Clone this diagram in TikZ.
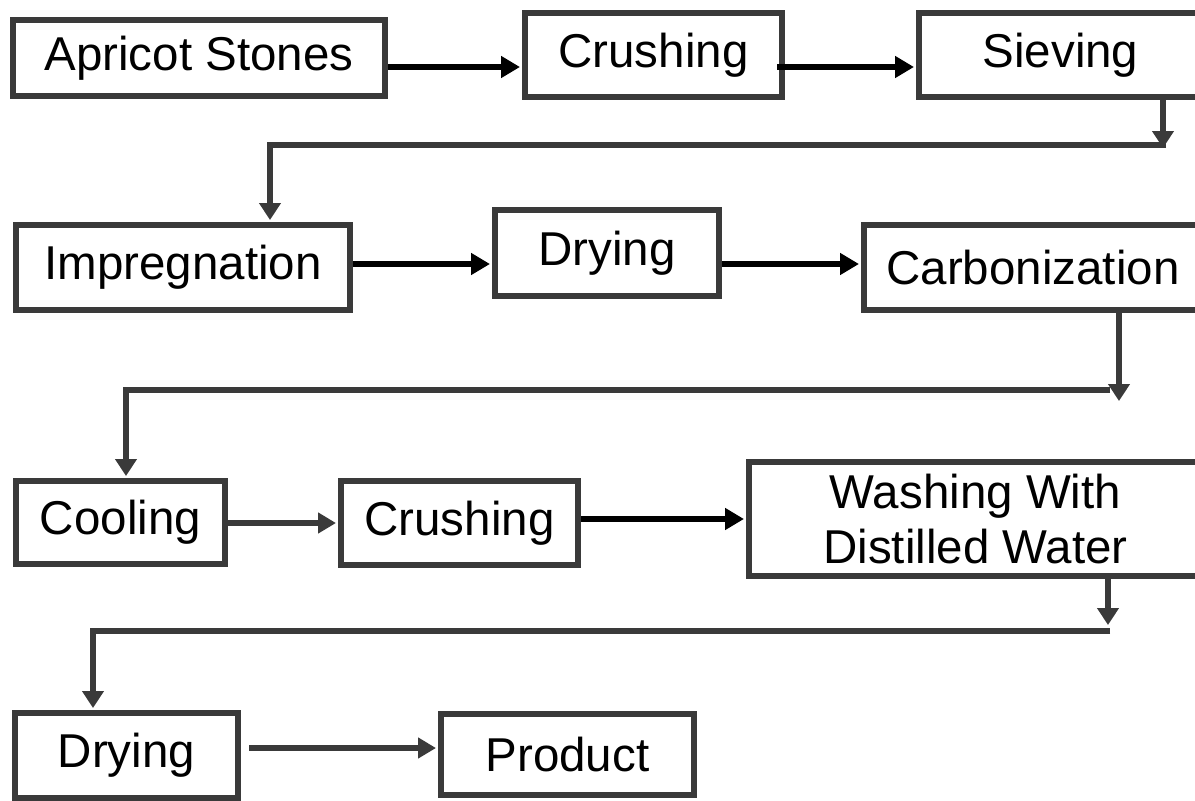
\documentclass[tikz,border=0pt]{standalone}
\usepackage{fontspec}
\setmainfont{Liberation Sans}
\usetikzlibrary{arrows.meta}
\definecolor{boxgray}{HTML}{3A3A3A}
\tikzset{
  box/.style={draw=boxgray, line width=6pt, fill=white, inner sep=0pt, align=center,
    font=\fontsize{47.5}{55}\selectfont, text=black},
  arrK/.style={line width=6.5pt, draw=black, -{Triangle[length=19pt,width=21pt]}, shorten >=2pt},
  arrG/.style={line width=6pt, draw=boxgray, -{Triangle[length=18pt,width=20pt]}, shorten >=2pt},
  conn/.style={line width=6pt, draw=boxgray, line join=miter},
  downarr/.style={line width=6pt, draw=boxgray, line join=miter, -{Triangle[length=17pt,width=21pt]}}
}
\begin{document}
\begin{tikzpicture}[x=1pt,y=-1pt]
\fill[white] (0,0) rectangle (1195,801);
\useasboundingbox (0,0) rectangle (1195,801);

% row 1
\node[box, minimum width=372pt, minimum height=76pt] (apricot) at (199,58) {Apricot Stones};
\node[box, minimum width=257pt, minimum height=84pt] (crushA) at (653.5,55) {Crushing};
\node[box, minimum width=283pt, minimum height=84pt] (sieve) at (1060.5,55) {Sieving};
% row 2
\node[box, minimum width=334pt, minimum height=85pt] (impreg) at (183,267.5) {Impregnation};
\node[box, minimum width=224pt, minimum height=86pt] (dryA) at (607,253) {Drying};
\node[box, minimum width=338pt, minimum height=85pt] (carb) at (1033,267.5) {Carbonization};
% row 3
\node[box, minimum width=209pt, minimum height=83pt] (cool) at (120.5,522.5) {Cooling};
\node[box, minimum width=237pt, minimum height=84pt] (crushB) at (459.5,523) {Crushing};
\node[box, minimum width=453pt, minimum height=114pt] (wash) at (975.5,519) {Washing With\\Distilled Water};
% row 4
\node[box, minimum width=223pt, minimum height=85pt] (dryB) at (126.5,755.5) {Drying};
\node[box, minimum width=253pt, minimum height=81pt] (product) at (567.5,754.5) {Product};

% helper coordinates
\coordinate (r1) at (0,67);
\coordinate (r2) at (0,264);
\coordinate (r3a) at (0,523);
\coordinate (r3b) at (0,519);
\coordinate (r4) at (0,748);

% row arrows
\draw[arrK] (apricot.east |- r1) -- (crushA.west |- r1);
\draw[arrK] ([xshift=-8pt]crushA.east |- r1) -- (sieve.west |- r1);
\draw[arrK] (impreg.east |- r2) -- (dryA.west |- r2);
\draw[arrK] (dryA.east |- r2) -- (carb.west |- r2);
\draw[arrG] (cool.east |- r3a) -- (crushB.west |- r3a);
\draw[arrK] (crushB.east |- r3b) -- (wash.west |- r3b);
\coordinate (p4) at (249,748);
\draw[arrG] (p4) -- (product.west |- r4);

% turn 1: Sieving -> Impregnation
\coordinate (j1) at (1163,148);
\coordinate (h1a) at (1166,145);
\coordinate (h1b) at (270,145);
\draw[downarr] (sieve.south -| j1) -- (j1);
\draw[downarr, shorten >=2pt] (h1a) -- (h1b) -- (impreg.north -| h1b);

% turn 2: Carbonization -> Cooling
\coordinate (j2) at (1119,401);
\coordinate (h2a) at (1110,390);
\coordinate (h2b) at (126,390);
\draw[downarr] (carb.south -| j2) -- (j2);
\draw[downarr, shorten >=2pt] (h2a) -- (h2b) -- (cool.north -| h2b);

% turn 3: Washing -> Drying
\coordinate (j3) at (1108,625);
\coordinate (h3a) at (1110,631);
\coordinate (h3b) at (93,631);
\draw[downarr] (wash.south -| j3) -- (j3);
\draw[downarr, shorten >=2pt] (h3a) -- (h3b) -- (dryB.north -| h3b);
\end{tikzpicture}
\end{document}
